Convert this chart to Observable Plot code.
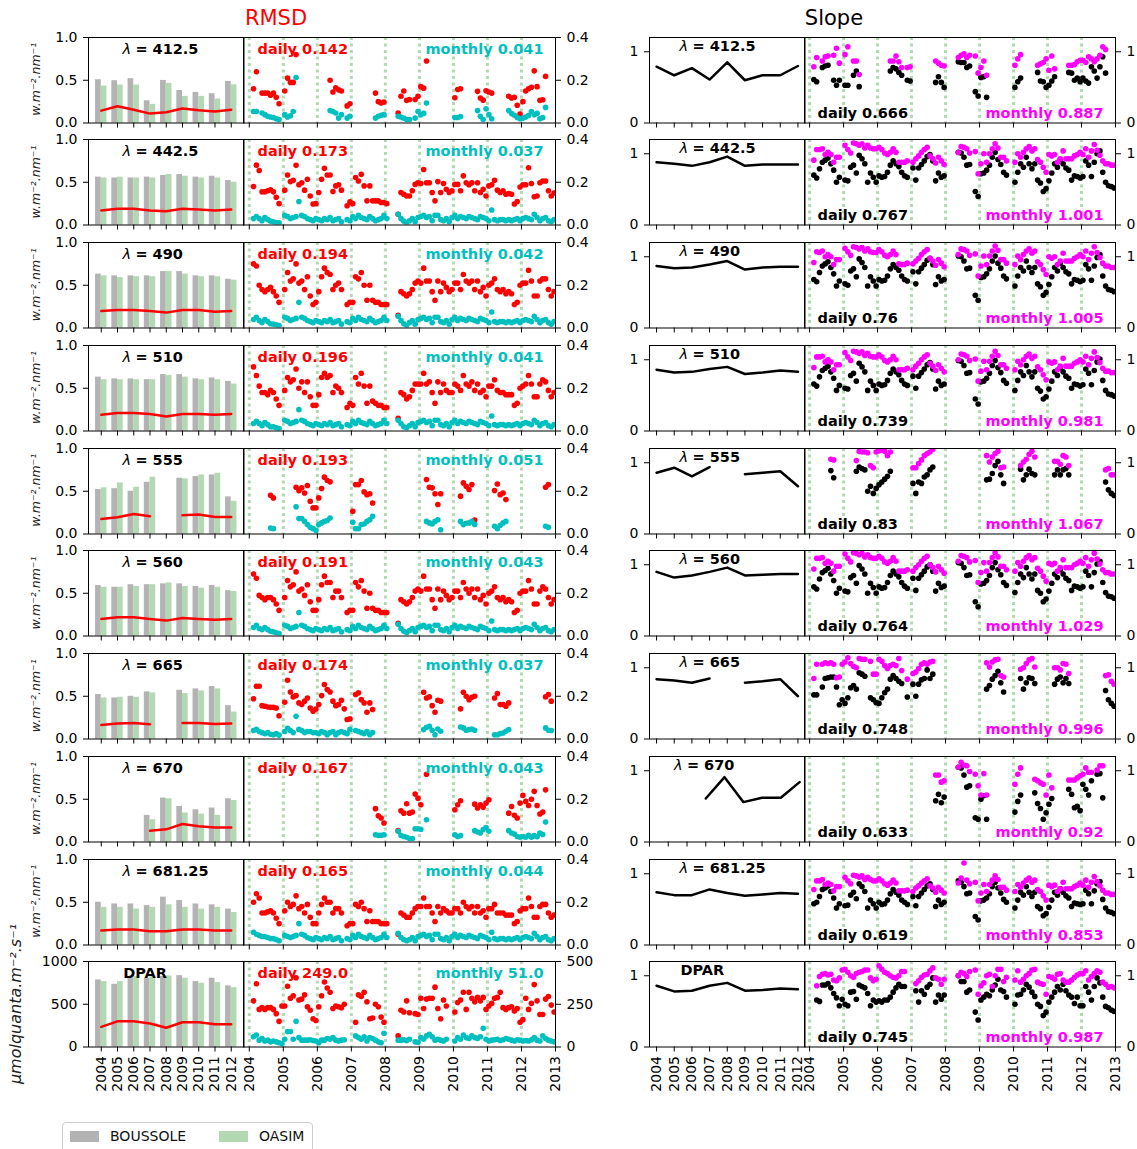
<!DOCTYPE html>
<html><head><meta charset="utf-8">
<script src="https://cdn.jsdelivr.net/npm/d3@7"></script>
<script src="https://cdn.jsdelivr.net/npm/@observablehq/plot@0.6"></script>
<style>
body{margin:0;background:#fff;}
#fig{position:relative;width:1137px;height:1149px;overflow:hidden;font-family:"DejaVu Sans",sans-serif;}
</style></head><body><div id="fig"></div>
<script>
const _ = null;
const years = [2004, 2005, 2006, 2007, 2008, 2009, 2010, 2011, 2012];
const yearsRight = [2004, 2005, 2006, 2007, 2008, 2009, 2010, 2011, 2012, 2013];
const bandNames = ["412.5", "442.5", "490", "510", "555", "560", "665", "670", "681.25", "DPAR"];
const rmsdDailyTxt = ["0.142", "0.173", "0.194", "0.196", "0.193", "0.191", "0.174", "0.167", "0.165", "249.0"];
const rmsdMonthlyTxt = ["0.041", "0.037", "0.042", "0.041", "0.051", "0.043", "0.037", "0.043", "0.044", "51.0"];
const slopeDailyTxt = ["0.666", "0.767", "0.76", "0.739", "0.83", "0.764", "0.748", "0.633", "0.619", "0.745"];
const slopeMonthlyTxt = ["0.887", "1.001", "1.005", "0.981", "1.067", "1.029", "0.996", "0.92", "0.853", "0.987"];
const legendNames = ["BOUSSOLE", "OASIM"];

// ---- annual values (2004..2012) ----
const boussole412 = [0.506, 0.494, 0.518, 0.26, 0.498, 0.38, 0.358, 0.342, 0.486];
const oasim412 = [0.432, 0.444, 0.444, 0.218, 0.463, 0.311, 0.311, 0.28, 0.447];
const rmsdYear412 = [0.145, 0.195, 0.155, 0.11, 0.125, 0.17, 0.15, 0.135, 0.155];
const slopeYear412 = [0.79, 0.67, 0.77, 0.61, 0.85, 0.6, 0.67, 0.67, 0.8];
const boussole442 = [0.56, 0.55, 0.55, 0.56, 0.58, 0.59, 0.56, 0.57, 0.52];
const oasim442 = [0.55, 0.56, 0.55, 0.55, 0.59, 0.57, 0.55, 0.55, 0.5];
const rmsdYear442 = [0.17, 0.19, 0.19, 0.17, 0.16, 0.19, 0.18, 0.17, 0.18];
const slopeYear442 = [0.88, 0.86, 0.83, 0.88, 0.96, 0.83, 0.85, 0.85, 0.85];
const boussole490 = [0.63, 0.61, 0.61, 0.61, 0.66, 0.66, 0.61, 0.61, 0.57];
const oasim490 = [0.61, 0.59, 0.6, 0.6, 0.66, 0.63, 0.6, 0.6, 0.56];
const rmsdYear490 = [0.2, 0.21, 0.21, 0.2, 0.18, 0.21, 0.21, 0.19, 0.2];
const slopeYear490 = [0.87, 0.84, 0.85, 0.89, 0.94, 0.82, 0.85, 0.86, 0.86];
const boussole510 = [0.63, 0.61, 0.61, 0.6, 0.66, 0.66, 0.61, 0.62, 0.58];
const oasim510 = [0.6, 0.6, 0.6, 0.6, 0.65, 0.63, 0.6, 0.6, 0.55];
const rmsdYear510 = [0.19, 0.21, 0.21, 0.2, 0.17, 0.2, 0.2, 0.19, 0.2];
const slopeYear510 = [0.86, 0.82, 0.83, 0.87, 0.9, 0.8, 0.82, 0.85, 0.83];
const boussole555 = [0.52, 0.53, 0.5, 0.605, _, 0.652, 0.672, 0.691, 0.434];
const oasim555 = [0.54, 0.598, 0.547, 0.664, _, 0.645, 0.691, 0.711, 0.383];
const rmsdYear555 = [0.176, 0.195, 0.234, 0.207, _, 0.219, 0.227, 0.2, 0.2];
const slopeYear555 = [0.86, 0.93, 0.81, 0.94, _, 0.84, 0.86, 0.88, 0.67];
const boussole560 = [0.59, 0.57, 0.6, 0.6, 0.61, 0.61, 0.58, 0.59, 0.53];
const oasim560 = [0.57, 0.57, 0.58, 0.6, 0.62, 0.58, 0.56, 0.57, 0.52];
const rmsdYear560 = [0.2, 0.22, 0.22, 0.2, 0.18, 0.21, 0.2, 0.19, 0.2];
const slopeYear560 = [0.9, 0.82, 0.85, 0.9, 0.96, 0.85, 0.86, 0.87, 0.87];
const boussole665 = [0.52, 0.48, 0.5, 0.551, _, 0.57, 0.586, 0.613, 0.39];
const oasim665 = [0.48, 0.488, 0.488, 0.539, _, 0.531, 0.563, 0.586, 0.316];
const rmsdYear665 = [0.164, 0.18, 0.188, 0.172, _, 0.188, 0.188, 0.176, 0.18];
const slopeYear665 = [0.84, 0.82, 0.79, 0.85, _, 0.79, 0.81, 0.84, 0.6];
const boussole670 = [_, _, _, 0.311, 0.514, 0.416, 0.377, 0.397, 0.506];
const oasim670 = [_, _, _, 0.261, 0.506, 0.339, 0.327, 0.311, 0.486];
const rmsdYear670 = [_, _, _, 0.132, 0.148, 0.21, 0.183, 0.171, 0.171];
const slopeYear670 = [_, _, _, 0.61, 0.91, 0.56, 0.62, 0.62, 0.84];
const boussole681 = [0.5, 0.48, 0.48, 0.46, 0.56, 0.52, 0.48, 0.47, 0.42];
const oasim681 = [0.44, 0.44, 0.42, 0.44, 0.47, 0.44, 0.42, 0.44, 0.38];
const rmsdYear681 = [0.17, 0.18, 0.18, 0.16, 0.16, 0.18, 0.18, 0.17, 0.17];
const slopeYear681 = [0.74, 0.7, 0.7, 0.78, 0.73, 0.69, 0.71, 0.73, 0.72];
const boussoleDPAR = [784, 733, 810, 804, 824, 835, 765, 804, 714];
const oasimDPAR = [765, 765, 824, 824, 831, 804, 745, 753, 694];
const rmsdYearDPAR = [235, 300, 300, 275, 225, 290, 290, 265, 265];
const slopeYearDPAR = [0.86, 0.78, 0.79, 0.86, 0.9, 0.79, 0.8, 0.82, 0.81];

// ---- monthly match-ups, Jan 2004 .. Dec 2012 (one line per year) ----
const rmsdDaily412 = [
 _, 0.16, 0.24, _, 0.14, 0.14, 0.14, 0.13, 0.14, 0.12, 0.09, _,
 0.15, 0.21, 0.19, 0.19, 0.32, _, _, _, _, _, _, _,
 _, _, _, _, 0.20, 0.145, 0.165, 0.155, 0.15, _, 0.08, 0.09,
 _, _, _, _, _, _, _, _, 0.14, 0.10, 0.093, 0.098,
 _, _, _, _, 0.047, 0.125, 0.15, 0.106, 0.11, _, 0.11, 0.125,
 0.17, 0.163, 0.29, _, _, _, _, _, _, _, _, _,
 0.118, 0.157, 0.16, _, _, _, _, _, 0.148, 0.117, 0.107, 0.151,
 0.145, 0.14, _, _, _, _, _, 0.125, 0.117, 0.12, 0.083, 0.042,
 0.10, 0.15, 0.16, 0.167, 0.244, 0.17, 0.106, 0.109, 0.218, _, _, _];
const rmsdMonthly412 = [
 _, 0.054, 0.054, _, 0.047, 0.039, 0.031, 0.028, 0.026, 0.02, 0.016, _,
 0.039, 0.028, 0.034, 0.054, 0.213, _, _, _, _, _, _, _,
 _, _, _, _, 0.058, 0.054, 0.047, 0.023, 0.039, _, 0.023, 0.031,
 _, _, _, _, _, _, _, _, 0.023, 0.031, 0.036, 0.039,
 _, _, _, _, 0.031, 0.028, 0.023, 0.016, 0.016, _, 0.023, 0.054,
 0.039, 0.045, 0.093, _, _, _, _, _, _, _, _, _,
 0.026, 0.026, 0.03, _, _, _, _, _, 0.058, 0.031, 0.016, 0.067,
 0.04, 0.02, _, _, _, _, _, 0.058, 0.044, 0.036, 0.026, 0.02,
 0.023, 0.028, 0.035, 0.054, 0.039, 0.045, 0.02, 0.025, 0.073, _, _, _];
const slopeDaily412 = [
 _, 0.61, 0.58, _, 0.78, 0.8, 0.81, _, 0.6, 0.53, 0.6, _,
 0.53, 0.53, _, 0.67, 0.73, 0.51, _, _, _, _, _, _,
 _, _, _, _, 0.73, 0.78, 0.76, 0.71, 0.67, _, 0.6, 0.59,
 _, _, _, _, _, _, _, _, 0.57, 0.65, 0.57, 0.5,
 _, _, _, _, 0.86, 0.85, 0.85, 0.78, 0.8, _, 0.44, 0.38,
 0.64, 0.65, 0.36, _, _, _, _, _, _, _, _, _,
 0.5, 0.58, 0.63, _, _, _, _, _, 0.71, 0.59, 0.58, 0.5,
 0.53, 0.59, 0.65, _, _, _, _, 0.71, 0.7, 0.6, 0.63, 0.58,
 0.63, 0.59, 0.56, 0.79, 0.73, 0.63, 0.79, 0.93, 0.7, _, _, _];
const slopeMonthly412 = [
 _, 0.79, 0.92, _, 0.87, 0.93, 0.94, _, 0.95, 1.05, 0.84, _,
 0.96, 1.07, _, 0.87, 0.87, 0.68, _, _, _, _, _, _,
 _, _, _, _, 0.87, 0.87, 0.94, 0.86, 0.78, _, 0.78, 0.79,
 _, _, _, _, _, _, _, _, 0.87, 0.84, 0.81, 0.8,
 _, _, _, _, 0.92, 0.95, 0.97, 0.92, 0.95, _, 0.94, 0.7,
 0.78, 0.87, 0.67, _, _, _, _, _, _, _, _, _,
 0.81, 0.9, 0.96, _, _, _, _, _, 0.81, 0.83, 0.85, 0.9,
 0.74, 0.94, 0.76, _, _, _, _, 0.81, 0.81, 0.82, 0.86, 0.88,
 0.88, 0.85, 0.93, 0.9, 0.86, 0.9, 0.95, 1.07, 1.03, _, _, _];

const rmsdDaily442 = [
 _, 0.18, 0.28, 0.255, 0.155, 0.155, 0.16, 0.165, 0.155, 0.13, 0.1, _,
 0.163, 0.234, 0.203, 0.209, 0.279, 0.188, 0.198, 0.163, 0.214, 0.136, 0.098, 0.1,
 0.152, 0.214, 0.265, 0.234, 0.234, 0.157, 0.183, 0.188, 0.163, _, 0.09, 0.108,
 0.1, 0.222, 0.206, 0.237, 0.183, 0.113, 0.183, 0.113, 0.113, 0.113, 0.105, 0.105,
 0.1, _, _, _, 0.05, 0.152, 0.144, 0.136, 0.136, 0.16, 0.19, 0.198,
 0.194, 0.26, 0.198, 0.198, 0.152, 0.113, 0.203, 0.152, 0.194, 0.167, 0.152, 0.16,
 0.19, 0.19, 0.16, 0.23, 0.198, 0.188, 0.198, 0.16, 0.198, 0.152, 0.167, 0.136,
 0.183, 0.188, 0.209, 0.163, 0.152, 0.16, 0.144, 0.147, 0.144, 0.098, 0.11, 0.178,
 0.188, 0.188, 0.268, 0.194, 0.132, 0.136, 0.198, 0.206, 0.206, 0.16, 0.136, 0.15];
const rmsdMonthly442 = [
 _, 0.03, 0.04, 0.03, 0.02, 0.035, 0.025, 0.018, 0.015, 0.012, 0.01, _,
 0.045, 0.04, 0.03, 0.035, 0.04, 0.11, 0.045, 0.04, 0.03, 0.025, 0.02, 0.03,
 0.025, 0.02, 0.03, 0.025, 0.035, 0.02, 0.025, 0.03, 0.015, _, 0.025, 0.02,
 0.04, 0.03, 0.045, 0.035, 0.03, 0.025, 0.04, 0.03, 0.02, 0.025, 0.03, 0.045,
 0.03, _, _, _, 0.05, 0.03, 0.018, 0.01, 0.02, 0.03, 0.015, 0.035,
 0.04, 0.045, 0.035, 0.04, 0.02, 0.045, 0.045, 0.025, 0.02, 0.03, 0.015, 0.035,
 0.045, 0.03, 0.04, 0.035, 0.03, 0.04, 0.035, 0.03, 0.025, 0.04, 0.035, 0.03,
 0.02, 0.07, 0.025, 0.02, 0.025, 0.025, 0.02, 0.025, 0.02, 0.025, 0.03, 0.02,
 0.03, 0.035, 0.03, 0.025, 0.05, 0.035, 0.02, 0.03, 0.035, 0.02, 0.015, 0.025];
const slopeDaily442 = [
 _, 0.7, 0.66, 0.79, 0.88, 0.91, 0.94, 0.86, 0.77, 0.6, 0.67, _,
 0.63, 0.62, 0.81, 0.84, 0.73, 0.98, 0.93, 0.86, 0.6, 0.73, 0.67, 0.6,
 0.69, 0.67, 0.68, 0.74, 0.84, 0.9, 0.86, 0.82, 0.74, 0.69, 0.67, _,
 0.8, 0.63, 0.8, 0.85, 0.9, 0.96, 0.99, 0.9, 0.62, 0.73, 0.67, 0.69,
 _, _, _, _, 1.02, 1.01, 0.95, 0.84, 0.85, _, 0.47, 0.4,
 0.72, 0.73, 0.77, 0.84, 0.95, 1.02, 0.92, 0.85, 0.74, 0.7, _, _,
 0.6, 0.74, 0.86, 0.81, 0.95, 0.86, 0.79, 0.86, 0.63, 0.59, 0.47, 0.51,
 0.62, 0.73, 0.86, 0.81, 0.92, 0.86, 0.8, 0.77, 0.63, 0.69, 0.68, 0.66,
 0.68, 0.9, 0.84, 0.68, 0.88, 1.0, 1.04, 0.74, 0.6, 0.55, 0.54, 0.52];
const slopeMonthly442 = [
 _, 0.91, 1.06, 1.06, 1.07, 0.99, 1.02, 0.99, 0.88, 0.95, 0.95, _,
 1.12, 1.06, 1.01, 1.15, 1.14, 1.12, 1.14, 1.08, 1.12, 1.08, 1.07, 1.07,
 1.09, 1.06, 1.01, 0.99, 1.02, 1.07, 1.02, 0.88, 0.88, 0.88, 0.9, _,
 0.88, 0.93, 0.97, 1.02, 1.06, 1.09, 0.97, 0.93, 0.87, 0.95, 0.9, 0.85,
 _, _, _, _, 1.02, 1.1, 1.09, 1.07, 1.01, _, 1.03, 0.72,
 0.86, 1.0, 0.88, 1.0, 1.07, 1.14, 1.08, 0.95, 0.95, 0.9, _, _,
 0.88, 1.0, 0.95, 1.02, 1.07, 1.1, 1.04, 1.07, 0.92, 0.88, 0.81, 0.74,
 0.99, 0.97, 0.99, 0.88, 0.93, 1.04, 0.93, 0.93, 0.93, 0.97, 0.99, 1.02,
 0.99, 1.07, 0.95, 1.04, 1.13, 1.05, 0.98, 0.9, 0.86, 0.86, 0.84, 0.84];

const rmsdDaily490 = [
 _, 0.3, 0.29, 0.2, 0.18, 0.17, 0.18, 0.19, 0.17, 0.15, 0.12, _,
 0.18, 0.26, 0.22, 0.23, 0.3, 0.21, 0.22, 0.18, 0.24, 0.15, 0.11, 0.12,
 0.17, 0.24, 0.28, 0.26, 0.25, 0.18, 0.2, 0.21, 0.18, _, 0.11, 0.12,
 0.12, 0.24, 0.23, 0.26, 0.2, 0.13, 0.2, 0.13, 0.12, 0.12, 0.11, 0.11,
 0.11, _, _, _, 0.06, 0.17, 0.16, 0.15, 0.16, 0.18, 0.21, 0.22,
 0.21, 0.28, 0.22, 0.22, 0.17, 0.13, 0.22, 0.17, 0.21, 0.19, 0.17, 0.18,
 0.21, 0.21, 0.18, 0.25, 0.22, 0.21, 0.22, 0.18, 0.22, 0.17, 0.19, 0.15,
 0.2, 0.21, 0.23, 0.18, 0.17, 0.18, 0.16, 0.17, 0.16, 0.11, 0.12, 0.2,
 0.21, 0.21, 0.27, 0.22, 0.15, 0.15, 0.22, 0.23, 0.23, 0.18, 0.15, 0.17];
const rmsdMonthly490 = [
 _, 0.04, 0.05, 0.035, 0.025, 0.04, 0.03, 0.02, 0.018, 0.015, 0.012, _,
 0.05, 0.045, 0.035, 0.04, 0.045, 0.12, 0.05, 0.045, 0.035, 0.03, 0.025, 0.035,
 0.03, 0.025, 0.035, 0.03, 0.04, 0.025, 0.03, 0.035, 0.018, _, 0.03, 0.025,
 0.045, 0.035, 0.05, 0.04, 0.035, 0.03, 0.045, 0.035, 0.025, 0.03, 0.035, 0.05,
 0.035, _, _, _, 0.055, 0.035, 0.02, 0.012, 0.025, 0.035, 0.018, 0.04,
 0.045, 0.05, 0.04, 0.045, 0.025, 0.05, 0.05, 0.03, 0.025, 0.035, 0.018, 0.04,
 0.05, 0.035, 0.045, 0.04, 0.035, 0.045, 0.04, 0.035, 0.03, 0.045, 0.04, 0.035,
 0.025, 0.075, 0.03, 0.025, 0.03, 0.03, 0.025, 0.03, 0.025, 0.03, 0.035, 0.025,
 0.035, 0.04, 0.035, 0.03, 0.055, 0.04, 0.025, 0.035, 0.04, 0.025, 0.018, 0.03];
const slopeDaily490 = [
 _, 0.68, 0.65, 0.78, 0.87, 0.9, 0.93, 0.85, 0.76, 0.59, 0.66, _,
 0.62, 0.6, 0.8, 0.83, 0.72, 0.97, 0.92, 0.85, 0.59, 0.72, 0.66, 0.59,
 0.68, 0.66, 0.67, 0.73, 0.83, 0.89, 0.85, 0.81, 0.73, 0.68, 0.66, _,
 0.79, 0.62, 0.79, 0.84, 0.89, 0.95, 0.98, 0.89, 0.61, 0.72, 0.66, 0.68,
 _, _, _, _, 1.01, 1.0, 0.94, 0.83, 0.84, _, 0.46, 0.39,
 0.71, 0.72, 0.76, 0.83, 0.94, 1.01, 0.91, 0.84, 0.73, 0.69, _, _,
 0.59, 0.73, 0.85, 0.8, 0.94, 0.85, 0.78, 0.85, 0.62, 0.58, 0.46, 0.5,
 0.61, 0.72, 0.85, 0.8, 0.91, 0.85, 0.79, 0.76, 0.62, 0.68, 0.67, 0.65,
 0.67, 0.89, 0.83, 0.67, 0.87, 0.99, 1.03, 0.73, 0.59, 0.54, 0.53, 0.51];
const slopeMonthly490 = [
 _, 0.92, 1.07, 1.06, 1.08, 1.0, 1.03, 1.0, 0.89, 0.96, 0.96, _,
 1.12, 1.07, 1.02, 1.14, 1.13, 1.11, 1.13, 1.08, 1.11, 1.07, 1.06, 1.06,
 1.1, 1.07, 1.02, 1.0, 1.03, 1.08, 1.03, 0.9, 0.89, 0.89, 0.91, _,
 0.9, 0.94, 0.98, 1.03, 1.07, 1.1, 0.98, 0.94, 0.88, 0.96, 0.91, 0.86,
 _, _, _, _, 1.03, 1.11, 1.1, 1.08, 1.02, _, 1.04, 0.73,
 0.87, 1.01, 0.89, 1.01, 1.08, 1.15, 1.09, 0.96, 0.96, 0.91, _, _,
 0.89, 1.01, 0.96, 1.03, 1.08, 1.11, 1.05, 1.08, 0.93, 0.89, 0.82, 0.75,
 1.0, 0.98, 1.0, 0.89, 0.94, 1.05, 0.94, 0.94, 0.94, 0.98, 1.0, 1.03,
 1.0, 1.08, 0.96, 1.05, 1.14, 1.06, 0.99, 0.91, 0.87, 0.87, 0.85, 0.85];

const rmsdDaily510 = [
 _, 0.3, 0.26, 0.21, 0.18, 0.18, 0.17, 0.19, 0.18, 0.15, 0.12, _,
 0.19, 0.25, 0.23, 0.24, 0.29, 0.2, 0.23, 0.18, 0.23, 0.16, 0.12, 0.12,
 0.17, 0.25, 0.27, 0.25, 0.26, 0.18, 0.21, 0.2, 0.18, _, 0.11, 0.13,
 0.12, 0.25, 0.22, 0.27, 0.21, 0.13, 0.21, 0.14, 0.13, 0.12, 0.12, 0.11,
 0.11, _, _, _, 0.06, 0.18, 0.17, 0.15, 0.16, 0.19, 0.22, 0.22,
 0.22, 0.27, 0.22, 0.23, 0.18, 0.13, 0.23, 0.18, 0.22, 0.19, 0.18, 0.18,
 0.22, 0.21, 0.19, 0.26, 0.22, 0.21, 0.23, 0.19, 0.22, 0.18, 0.19, 0.16,
 0.21, 0.21, 0.24, 0.19, 0.18, 0.18, 0.17, 0.17, 0.17, 0.12, 0.13, 0.2,
 0.21, 0.22, 0.26, 0.22, 0.16, 0.16, 0.22, 0.24, 0.23, 0.19, 0.16, 0.18];
const rmsdMonthly510 = [
 _, 0.035, 0.045, 0.035, 0.025, 0.04, 0.03, 0.02, 0.02, 0.015, 0.012, _,
 0.05, 0.045, 0.035, 0.04, 0.045, 0.1, 0.05, 0.045, 0.035, 0.03, 0.025, 0.035,
 0.03, 0.025, 0.035, 0.03, 0.04, 0.025, 0.03, 0.035, 0.02, _, 0.03, 0.025,
 0.045, 0.035, 0.05, 0.04, 0.035, 0.03, 0.045, 0.035, 0.025, 0.03, 0.035, 0.05,
 0.035, _, _, _, 0.05, 0.035, 0.02, 0.015, 0.025, 0.035, 0.02, 0.04,
 0.045, 0.05, 0.04, 0.045, 0.025, 0.05, 0.05, 0.03, 0.025, 0.035, 0.02, 0.04,
 0.05, 0.035, 0.045, 0.04, 0.035, 0.045, 0.04, 0.035, 0.03, 0.045, 0.04, 0.035,
 0.025, 0.07, 0.03, 0.025, 0.03, 0.03, 0.025, 0.03, 0.025, 0.03, 0.035, 0.025,
 0.035, 0.04, 0.035, 0.03, 0.05, 0.04, 0.025, 0.035, 0.04, 0.025, 0.02, 0.03];
const slopeDaily510 = [
 _, 0.66, 0.63, 0.76, 0.85, 0.88, 0.91, 0.83, 0.74, 0.57, 0.64, _,
 0.6, 0.59, 0.78, 0.81, 0.7, 0.95, 0.9, 0.83, 0.57, 0.7, 0.64, 0.57,
 0.66, 0.64, 0.65, 0.71, 0.81, 0.87, 0.83, 0.79, 0.71, 0.66, 0.64, _,
 0.77, 0.6, 0.77, 0.82, 0.87, 0.93, 0.96, 0.87, 0.59, 0.7, 0.64, 0.66,
 _, _, _, _, 0.99, 0.98, 0.92, 0.81, 0.82, _, 0.45, 0.38,
 0.69, 0.7, 0.74, 0.81, 0.92, 0.99, 0.89, 0.82, 0.71, 0.67, _, _,
 0.57, 0.71, 0.83, 0.78, 0.92, 0.83, 0.76, 0.83, 0.6, 0.56, 0.45, 0.48,
 0.59, 0.7, 0.83, 0.78, 0.89, 0.83, 0.77, 0.74, 0.6, 0.66, 0.65, 0.63,
 0.65, 0.87, 0.81, 0.65, 0.85, 0.97, 1.01, 0.71, 0.57, 0.52, 0.51, 0.49];
const slopeMonthly510 = [
 _, 0.89, 1.04, 1.04, 1.05, 0.97, 1.0, 0.97, 0.86, 0.93, 0.93, _,
 1.1, 1.04, 0.99, 1.12, 1.11, 1.09, 1.11, 1.06, 1.09, 1.05, 1.04, 1.04,
 1.07, 1.04, 0.99, 0.97, 1.0, 1.05, 1.0, 0.86, 0.86, 0.86, 0.88, _,
 0.86, 0.91, 0.95, 1.0, 1.04, 1.07, 0.95, 0.91, 0.85, 0.93, 0.88, 0.83,
 _, _, _, _, 1.0, 1.08, 1.07, 1.05, 0.99, _, 1.01, 0.7,
 0.84, 0.98, 0.86, 0.98, 1.05, 1.12, 1.06, 0.93, 0.93, 0.88, _, _,
 0.86, 0.98, 0.93, 1.0, 1.05, 1.08, 1.02, 1.05, 0.9, 0.86, 0.79, 0.72,
 0.97, 0.95, 0.97, 0.86, 0.91, 1.02, 0.91, 0.91, 0.91, 0.95, 0.97, 1.0,
 0.97, 1.05, 0.93, 1.02, 1.11, 1.03, 0.96, 0.88, 0.84, 0.84, 0.82, 0.82];

const rmsdDaily555 = [
 _, _, _, _, _, _, _, 0.181, 0.169, _, _, _,
 _, _, _, _, 0.219, 0.203, 0.216, 0.192, 0.227, 0.153, 0.122, 0.122,
 0.169, 0.213, 0.266, 0.25, 0.244, _, _, _, _, _, _, _,
 0.106, 0.231, 0.231, 0.25, 0.197, 0.184, 0.188, 0.145, _, _, _, _,
 _, _, _, _, _, _, _, _, _, _, _, _,
 _, _, 0.255, 0.219, 0.216, 0.188, 0.138, 0.188, _, _, _, _,
 _, _, 0.177, 0.239, 0.223, 0.208, 0.231, 0.065, _, _, _, _,
 _, _, 0.203, 0.234, 0.184, 0.192, 0.161, _, _, _, _, _,
 _, _, _, _, _, _, _, _, 0.219, 0.231, _, _];
const rmsdMonthly555 = [
 _, _, _, _, _, _, _, 0.028, 0.025, _, _, _,
 _, _, _, _, 0.127, 0.072, 0.072, 0.059, 0.044, 0.031, 0.025, 0.016,
 0.044, 0.052, 0.059, 0.063, 0.075, _, _, _, _, _, _, _,
 0.055, 0.025, 0.025, 0.044, 0.047, 0.059, 0.067, 0.083, _, _, _, _,
 _, _, _, _, _, _, _, _, _, _, _, _,
 _, _, 0.059, 0.052, 0.047, 0.059, 0.067, 0.02, _, _, _, _,
 _, _, 0.059, 0.044, 0.05, 0.052, 0.059, 0.045, _, _, _, _,
 _, _, 0.036, 0.025, 0.041, 0.052, 0.059, _, _, _, _, _,
 _, _, _, _, _, _, _, _, 0.036, 0.031, _, _];
const slopeDaily555 = [
 _, _, _, _, _, _, _, 0.89, 0.79, _, _, _,
 _, _, _, _, 0.88, 0.94, 0.92, 0.9, 0.6, 0.67, 0.57, 0.64,
 0.69, 0.73, 0.77, 0.81, 0.88, _, _, _, _, _, _, _,
 0.71, 0.57, 0.73, 0.71, 0.8, 0.83, 0.9, 0.94, _, _, _, _,
 _, _, _, _, _, _, _, _, _, _, _, _,
 _, _, 0.76, 0.77, 0.85, 0.96, 1.02, 0.83, 0.71, _, _, _,
 _, _, 0.91, 0.76, 0.83, 0.91, 0.85, 0.83, _, _, _, _,
 _, _, 0.83, 0.9, 0.83, 0.9, 0.92, 0.83, _, _, _, _,
 _, _, _, _, _, _, _, _, 0.73, 0.62, 0.57, 0.54];
const slopeMonthly555 = [
 _, _, _, _, _, _, _, 1.05, 1.04, _, _, _,
 _, _, _, _, 1.03, 1.16, 1.15, 1.15, 1.14, 0.96, 0.93, 1.15,
 1.17, 1.18, 1.16, 1.1, 1.15, _, _, _, _, _, _, _,
 0.93, 0.93, 0.99, 1.04, 1.1, 1.13, 1.15, 1.19, _, _, _, _,
 _, _, _, _, _, _, _, _, _, _, _, _,
 _, _, 1.1, 1.01, 1.08, 1.13, 1.16, 0.93, 0.94, _, _, _,
 _, _, 0.96, 1.01, 1.05, 1.12, 1.16, 1.08, _, _, _, _,
 _, _, 1.02, 1.02, 0.98, 1.1, 1.08, 0.96, _, _, _, _,
 _, _, _, _, _, _, _, _, 0.9, 0.92, 0.83, 0.83];

const rmsdDaily560 = [
 _, 0.29, 0.27, 0.19, 0.18, 0.17, 0.18, 0.18, 0.17, 0.15, 0.12, _,
 0.18, 0.26, 0.23, 0.24, 0.3, 0.21, 0.22, 0.19, 0.24, 0.16, 0.12, 0.12,
 0.17, 0.24, 0.28, 0.25, 0.25, 0.18, 0.21, 0.21, 0.18, _, 0.11, 0.12,
 0.12, 0.25, 0.23, 0.26, 0.21, 0.13, 0.2, 0.13, 0.12, 0.12, 0.11, 0.11,
 0.11, _, _, _, 0.06, 0.17, 0.16, 0.15, 0.16, 0.18, 0.21, 0.22,
 0.21, 0.28, 0.22, 0.22, 0.17, 0.13, 0.22, 0.17, 0.21, 0.19, 0.17, 0.18,
 0.21, 0.21, 0.18, 0.25, 0.22, 0.2, 0.22, 0.18, 0.22, 0.17, 0.19, 0.15,
 0.2, 0.21, 0.23, 0.18, 0.17, 0.18, 0.16, 0.17, 0.16, 0.11, 0.12, 0.2,
 0.21, 0.21, 0.26, 0.22, 0.15, 0.15, 0.21, 0.23, 0.22, 0.18, 0.15, 0.17];
const rmsdMonthly560 = [
 _, 0.04, 0.05, 0.035, 0.03, 0.04, 0.03, 0.022, 0.02, 0.015, 0.012, _,
 0.05, 0.045, 0.035, 0.04, 0.045, 0.11, 0.05, 0.045, 0.035, 0.03, 0.025, 0.035,
 0.03, 0.025, 0.035, 0.03, 0.04, 0.025, 0.03, 0.035, 0.02, _, 0.03, 0.025,
 0.045, 0.035, 0.05, 0.04, 0.035, 0.03, 0.045, 0.035, 0.025, 0.03, 0.035, 0.05,
 0.035, _, _, _, 0.055, 0.035, 0.022, 0.015, 0.025, 0.035, 0.02, 0.04,
 0.045, 0.05, 0.04, 0.045, 0.025, 0.05, 0.05, 0.03, 0.025, 0.035, 0.02, 0.04,
 0.05, 0.035, 0.045, 0.04, 0.035, 0.045, 0.04, 0.035, 0.03, 0.045, 0.04, 0.035,
 0.025, 0.07, 0.03, 0.025, 0.03, 0.03, 0.025, 0.03, 0.025, 0.03, 0.035, 0.025,
 0.035, 0.04, 0.035, 0.03, 0.055, 0.04, 0.025, 0.035, 0.04, 0.025, 0.02, 0.03];
const slopeDaily560 = [
 _, 0.69, 0.66, 0.8, 0.89, 0.92, 0.95, 0.87, 0.78, 0.6, 0.67, _,
 0.63, 0.62, 0.82, 0.85, 0.74, 0.99, 0.94, 0.87, 0.6, 0.74, 0.68, 0.6,
 0.69, 0.67, 0.68, 0.75, 0.85, 0.91, 0.87, 0.83, 0.75, 0.7, 0.67, _,
 0.81, 0.64, 0.81, 0.86, 0.91, 0.97, 1.0, 0.91, 0.63, 0.74, 0.68, 0.7,
 _, _, _, _, 1.03, 1.02, 0.96, 0.85, 0.86, _, 0.48, 0.41,
 0.73, 0.74, 0.78, 0.85, 0.96, 1.03, 0.93, 0.86, 0.75, 0.71, _, _,
 0.61, 0.75, 0.87, 0.82, 0.96, 0.87, 0.8, 0.87, 0.64, 0.6, 0.48, 0.52,
 0.63, 0.74, 0.87, 0.82, 0.93, 0.87, 0.81, 0.78, 0.64, 0.7, 0.69, 0.67,
 0.69, 0.91, 0.85, 0.69, 0.89, 1.01, 1.05, 0.75, 0.61, 0.56, 0.55, 0.53];
const slopeMonthly560 = [
 _, 0.94, 1.09, 1.09, 1.1, 1.02, 1.05, 1.02, 0.91, 0.98, 0.98, _,
 1.15, 1.09, 1.04, 1.17, 1.16, 1.14, 1.16, 1.11, 1.14, 1.1, 1.09, 1.09,
 1.12, 1.09, 1.04, 1.02, 1.05, 1.1, 1.05, 0.91, 0.91, 0.91, 0.93, _,
 0.91, 0.96, 1.0, 1.05, 1.09, 1.12, 1.0, 0.96, 0.9, 0.98, 0.93, 0.88,
 _, _, _, _, 1.05, 1.13, 1.12, 1.1, 1.04, _, 1.06, 0.75,
 0.89, 1.03, 0.91, 1.03, 1.1, 1.17, 1.11, 0.98, 0.98, 0.93, _, _,
 0.91, 1.03, 0.98, 1.05, 1.1, 1.13, 1.07, 1.1, 0.95, 0.91, 0.84, 0.77,
 1.02, 1.0, 1.02, 0.91, 0.96, 1.07, 0.96, 0.96, 0.96, 1.0, 1.02, 1.05,
 1.02, 1.1, 0.98, 1.07, 1.16, 1.08, 1.01, 0.93, 0.89, 0.89, 0.87, 0.87];

const rmsdDaily665 = [
 _, 0.188, 0.247, 0.247, 0.156, 0.153, 0.15, 0.148, 0.148, 0.145, 0.109, _,
 0.172, 0.275, 0.22, 0.197, 0.203, 0.169, 0.161, 0.177, 0.192, 0.145, 0.13, 0.14,
 0.161, 0.203, 0.255, 0.231, 0.22, 0.177, 0.156, 0.161, 0.181, 0.141, 0.091, 0.094,
 _, 0.208, 0.216, 0.184, 0.169, 0.125, 0.169, 0.138, _, _, _, _,
 _, _, _, _, _, _, _, _, _, _, _, _,
 _, 0.219, 0.192, 0.197, 0.156, 0.125, 0.181, 0.177, _, _, _, _,
 _, _, 0.141, 0.219, 0.2, 0.184, 0.195, 0.2, _, _, _, _,
 _, _, 0.192, 0.213, 0.161, 0.161, 0.153, 0.169, _, _, _, _,
 _, _, _, _, _, _, _, _, 0.197, 0.208, 0.177, _];
const rmsdMonthly665 = [
 _, 0.04, 0.045, 0.035, 0.03, 0.025, 0.03, 0.022, 0.02, 0.025, 0.018, _,
 0.035, 0.05, 0.04, 0.03, 0.106, 0.045, 0.04, 0.03, 0.035, 0.035, 0.03, 0.03,
 0.025, 0.035, 0.03, 0.02, 0.03, 0.035, 0.02, 0.03, 0.035, 0.03, 0.025, 0.045,
 _, 0.04, 0.035, 0.03, 0.025, 0.035, 0.02, 0.03, _, _, _, _,
 _, _, _, _, _, _, _, _, _, _, _, _,
 _, 0.044, 0.055, 0.059, 0.041, 0.02, 0.047, 0.036, _, _, _, _,
 _, _, 0.056, 0.052, 0.041, 0.044, 0.047, 0.041, _, _, _, _,
 _, _, 0.02, 0.02, 0.025, 0.028, 0.036, 0.044, _, _, _, _,
 _, _, _, _, _, _, _, _, 0.052, 0.041, 0.04, _];
const slopeDaily665 = [
 _, 0.62, 0.62, _, 0.73, 0.85, 0.86, 0.87, 0.87, 0.73, 0.48, 0.55,
 0.5, 0.58, 0.72, 0.75, 0.7, 0.93, 0.91, 0.88, _, 0.58, 0.55, 0.51,
 0.5, 0.58, 0.65, 0.7, 0.84, 0.89, 0.85, 0.81, 0.78, _, 0.59, _,
 0.77, 0.6, 0.77, 0.83, 0.85, 0.97, 0.85, 0.91, _, _, _, _,
 _, _, _, _, _, _, _, _, _, _, _, _,
 _, _, 0.7, 0.75, 0.84, 0.89, 0.95, 0.79, 0.66, _, _, _,
 _, _, 0.85, 0.7, 0.79, 0.86, 0.85, 0.78, _, _, _, _,
 _, _, 0.77, 0.84, 0.87, 0.79, 0.85, 0.78, _, _, _, _,
 _, _, _, _, _, _, _, _, 0.68, 0.55, 0.5, 0.46];
const slopeMonthly665 = [
 _, 0.85, 1.05, _, 1.05, 1.07, 1.06, 1.07, 1.05, 0.86, 0.87, 1.05,
 1.08, 1.14, 1.06, 1.02, 1.0, 1.13, 1.12, 1.12, _, 1.09, 0.91, 0.91,
 1.12, 1.09, 1.03, 0.99, 1.03, 1.05, 1.03, 1.13, 0.96, _, 0.84, _,
 0.92, 0.94, 0.99, 1.05, 1.07, 1.05, 1.08, 1.09, _, _, _, _,
 _, _, _, _, _, _, _, _, _, _, _, _,
 _, _, 1.07, 1.01, 1.08, 1.11, 1.12, 0.89, 0.87, _, _, _,
 _, _, 0.98, 1.0, 1.06, 1.11, 1.13, 1.01, _, _, _, _,
 _, _, 1.0, 1.0, 0.97, 1.06, 1.05, 0.92, _, _, _, _,
 _, _, _, _, _, _, _, _, 0.89, 0.9, 0.81, 0.77];

const rmsdDaily670 = [
 _, _, _, _, _, _, _, _, _, _, _, _,
 _, _, _, _, _, _, _, _, _, _, _, _,
 _, _, _, _, _, _, _, _, _, _, _, _,
 _, _, _, _, _, _, _, _, 0.156, 0.123, 0.112, 0.089,
 _, _, _, _, 0.053, 0.146, 0.135, 0.179, 0.135, 0.14, 0.224, 0.205,
 0.174, _, 0.317, _, _, _, _, _, _, _, _, _,
 0.151, 0.174, 0.193, _, _, _, _, 0.177, 0.159, 0.174, 0.162, 0.182,
 0.198, _, _, _, _, _, _, 0.135, 0.166, 0.125, 0.112, 0.182,
 0.218, 0.19, 0.171, 0.2, 0.237, 0.171, 0.131, 0.14, 0.244, _, _, _];
const rmsdMonthly670 = [
 _, _, _, _, _, _, _, _, _, _, _, _,
 _, _, _, _, _, _, _, _, _, _, _, _,
 _, _, _, _, _, _, _, _, _, _, _, _,
 _, _, _, _, _, _, _, _, 0.034, 0.031, 0.031, 0.034,
 _, _, _, _, 0.05, 0.031, 0.026, 0.022, 0.016, 0.016, 0.062, 0.062,
 0.06, _, 0.104, _, _, _, _, _, _, _, _, _,
 0.034, 0.026, 0.03, _, _, _, _, 0.053, 0.047, 0.042, 0.058, 0.068,
 0.05, _, _, _, _, _, _, 0.053, 0.042, 0.037, 0.026, 0.022,
 0.026, 0.022, 0.031, 0.022, 0.03, 0.025, 0.042, 0.035, 0.093, _, _, _];
const slopeDaily670 = [
 _, _, _, _, _, _, _, _, _, _, _, _,
 _, _, _, _, _, _, _, _, _, _, _, _,
 _, _, _, _, _, _, _, _, _, _, _, _,
 _, _, _, _, _, _, _, _, 0.58, 0.67, 0.55, 0.63,
 _, _, _, _, 1.05, 1.04, 0.94, 0.77, 0.79, _, 0.34, 0.32,
 0.6, 0.65, 0.32, _, _, _, _, _, _, _, _, _,
 0.42, 0.57, 0.66, _, _, _, _, 0.69, 0.54, 0.47, 0.32, 0.41,
 0.53, 0.61, _, _, _, _, _, 0.74, 0.67, 0.48, 0.5, 0.44,
 0.81, 0.74, 0.66, 0.86, _, 0.95, 0.96, 0.62, _, _, _, _];
const slopeMonthly670 = [
 _, _, _, _, _, _, _, _, _, _, _, _,
 _, _, _, _, _, _, _, _, _, _, _, _,
 _, _, _, _, _, _, _, _, _, _, _, _,
 _, _, _, _, _, _, _, _, 0.94, 0.94, 0.84, 0.86,
 _, _, _, _, 1.05, 1.12, 1.08, 1.07, 0.99, _, 0.95, 0.79,
 0.66, 0.96, 0.66, _, _, _, _, _, _, _, _, _,
 0.81, 0.95, 1.04, _, _, _, _, 0.88, 0.86, 0.83, 0.81, 0.66,
 0.94, 0.76, _, _, _, _, _, 0.87, 0.87, 0.87, 0.9, 0.93,
 0.95, 1.04, 0.98, 0.98, _, 1.01, 1.07, 1.07, _, _, _, _];

const rmsdDaily681 = [
 _, 0.2, 0.24, 0.22, 0.15, 0.15, 0.155, 0.16, 0.15, 0.125, 0.1, _,
 0.16, 0.2, 0.18, 0.19, 0.23, 0.17, 0.18, 0.15, 0.19, 0.13, 0.1, 0.1,
 0.15, 0.19, 0.22, 0.2, 0.2, 0.15, 0.17, 0.17, 0.15, _, 0.09, 0.1,
 0.1, 0.19, 0.18, 0.2, 0.17, 0.11, 0.16, 0.11, 0.11, 0.11, 0.1, 0.1,
 0.1, _, _, _, 0.05, 0.15, 0.14, 0.13, 0.13, 0.15, 0.17, 0.18,
 0.18, 0.22, 0.18, 0.18, 0.15, 0.11, 0.18, 0.15, 0.17, 0.16, 0.15, 0.15,
 0.17, 0.17, 0.15, 0.2, 0.18, 0.17, 0.18, 0.15, 0.18, 0.15, 0.16, 0.13,
 0.17, 0.17, 0.19, 0.15, 0.15, 0.15, 0.14, 0.14, 0.14, 0.1, 0.11, 0.16,
 0.17, 0.17, 0.22, 0.18, 0.13, 0.13, 0.18, 0.19, 0.19, 0.15, 0.13, 0.14];
const rmsdMonthly681 = [
 _, 0.06, 0.05, 0.045, 0.04, 0.04, 0.035, 0.03, 0.03, 0.025, 0.02, _,
 0.045, 0.04, 0.035, 0.04, 0.045, 0.1, 0.05, 0.045, 0.035, 0.03, 0.025, 0.035,
 0.03, 0.025, 0.035, 0.03, 0.04, 0.025, 0.03, 0.035, 0.02, _, 0.03, 0.025,
 0.045, 0.035, 0.05, 0.04, 0.035, 0.03, 0.045, 0.035, 0.025, 0.03, 0.035, 0.05,
 0.035, _, _, _, 0.055, 0.035, 0.025, 0.02, 0.025, 0.035, 0.02, 0.04,
 0.045, 0.05, 0.04, 0.045, 0.025, 0.05, 0.05, 0.03, 0.025, 0.035, 0.02, 0.04,
 0.05, 0.035, 0.045, 0.04, 0.035, 0.045, 0.04, 0.035, 0.03, 0.045, 0.04, 0.035,
 0.025, 0.06, 0.03, 0.025, 0.03, 0.03, 0.025, 0.03, 0.025, 0.03, 0.035, 0.025,
 0.035, 0.04, 0.035, 0.03, 0.055, 0.04, 0.025, 0.035, 0.04, 0.025, 0.02, 0.03];
const slopeDaily681 = [
 _, 0.58, 0.6, 0.68, 0.78, 0.8, 0.83, 0.75, 0.66, 0.52, 0.58, _,
 0.55, 0.56, 0.7, 0.74, 0.65, 0.86, 0.82, 0.75, 0.52, 0.63, 0.58, 0.52,
 0.6, 0.57, 0.58, 0.63, 0.72, 0.78, 0.74, 0.7, 0.63, 0.6, 0.57, _,
 0.68, 0.55, 0.68, 0.73, 0.78, 0.83, 0.86, 0.78, 0.54, 0.63, 0.57, 0.6,
 _, _, _, _, 0.9, 0.88, 0.82, 0.72, 0.73, _, 0.4, 0.35,
 0.62, 0.63, 0.66, 0.72, 0.82, 0.88, 0.8, 0.73, 0.64, 0.6, _, _,
 0.52, 0.63, 0.74, 0.7, 0.82, 0.74, 0.68, 0.74, 0.54, 0.51, 0.41, 0.44,
 0.53, 0.63, 0.74, 0.7, 0.79, 0.74, 0.69, 0.66, 0.54, 0.59, 0.58, 0.57,
 0.58, 0.77, 0.72, 0.58, 0.76, 0.86, 0.89, 0.64, 0.52, 0.47, 0.46, 0.44];
const slopeMonthly681 = [
 _, 0.78, 0.9, 0.9, 0.92, 0.85, 0.87, 0.85, 0.76, 0.82, 0.82, _,
 0.95, 0.9, 0.86, 0.98, 0.97, 0.95, 0.97, 0.92, 0.95, 0.92, 0.9, 0.9,
 0.93, 0.9, 0.86, 0.84, 0.87, 0.91, 0.87, 0.76, 0.76, 0.76, 0.77, _,
 0.75, 0.8, 0.83, 0.87, 0.9, 0.93, 0.83, 0.8, 0.74, 0.81, 0.77, 0.73,
 _, _, _, _, 0.87, 0.94, 1.15, 0.91, 0.86, _, 0.88, 0.62,
 0.73, 0.85, 0.75, 0.85, 0.91, 0.97, 0.92, 0.81, 0.81, 0.77, _, _,
 0.75, 0.85, 0.81, 0.87, 0.91, 0.94, 0.88, 0.91, 0.78, 0.75, 0.69, 0.63,
 0.84, 0.82, 0.84, 0.75, 0.79, 0.88, 0.79, 0.79, 0.79, 0.82, 0.84, 0.87,
 0.84, 0.91, 0.81, 0.88, 0.96, 0.89, 0.83, 0.77, 0.73, 0.73, 0.71, 0.71];

const rmsdDailyDPAR = [
 _, 270, 370, 220, 230, 220, 230, 230, 220, 195, 150, 240,
 240, 355, 285, 300, 405, 275, 280, 305, 235, 215, 165, 155,
 235, 300, 380, 345, 320, 225, 240, 235, 230, 250, _, _,
 _, 145, 305, 295, 320, 265, 165, 170, 250, 235, 175, 145,
 _, _, _, _, 65, 215, 205, 270, 200, _, 195, 190,
 285, 225, 280, 285, 285, 350, 225, 165, 275, 240, _, _,
 205, 260, 275, 320, 220, 320, 285, 265, 290, 270, 290, 220,
 240, 255, 285, 290, 320, 230, 220, 230, 235, 210, 225, 145,
 160, 285, 220, 255, 365, 270, 190, 190, 280, 295, 245, 205];
const rmsdMonthlyDPAR = [
 _, 60, 70, 40, 50, 35, 40, 30, 35, 30, 25, 20,
 45, 90, 90, 45, 150, 55, 40, 40, 40, 42, 38, 35,
 25, 40, 40, 50, 45, 55, 40, 35, 40, 42, _, _,
 _, 65, 55, 45, 60, 35, 55, 50, 40, 30, 25, 80,
 _, _, _, _, 40, 40, 42, 38, 45, _, 30, 28,
 55, 45, 65, 75, 60, 40, 45, 40, 35, 45, _, _,
 35, 55, 45, 70, 55, 50, 65, 55, 50, 60, 110, 45,
 35, 40, 42, 45, 38, 42, 50, 45, 40, 35, 42, 40,
 35, 38, 35, 42, 55, 40, 35, 65, 50, 40, 35, 30];
const slopeDailyDPAR = [
 _, _, 0.66, 0.64, 0.87, 0.87, 0.89, 0.83, 0.75, 0.69, 0.58, 0.67,
 0.6, 0.58, 0.77, 0.78, 0.67, 0.87, 0.85, 0.83, 0.75, 0.58, 0.66, 0.63,
 0.65, 0.63, 0.66, 0.66, 0.7, 0.77, 0.83, 0.88, 0.85, 0.85, _, _,
 _, 0.79, 0.63, 0.79, 0.74, 0.84, 0.88, 0.97, 0.63, 0.73, 0.67, 0.73,
 _, _, _, _, 1.0, 0.92, 0.92, 0.77, 0.8, _, 0.49, 0.38,
 0.66, 0.7, 0.74, 0.72, 0.8, 0.87, 0.95, 0.8, 0.78, 0.7, _, _,
 0.6, 0.73, 0.74, 0.8, 0.88, 0.84, 0.77, 0.71, 0.6, 0.57, 0.44, 0.49,
 0.63, 0.7, 0.77, 0.85, 0.8, 0.88, 0.79, 0.73, 0.7, 0.61, 0.7, 0.58,
 0.58, 0.85, 0.77, 0.66, 0.85, 0.97, 0.9, 0.7, 0.57, 0.55, 0.52, 0.5];
const slopeMonthlyDPAR = [
 _, _, 0.86, 0.99, 1.02, 1.03, 1.01, 1.02, 0.94, 0.93, 0.97, 1.08,
 1.09, 1.05, 1.0, 0.98, 1.03, 1.05, 1.06, 1.08, 1.08, 0.97, 0.93, 0.95,
 1.14, 1.09, 1.05, 1.03, 1.0, 0.98, 0.97, 1.0, 1.06, 1.06, _, _,
 _, 0.89, 0.93, 0.98, 1.01, 1.02, 1.07, 1.11, 0.97, 0.95, 0.88, 0.95,
 _, _, _, _, 1.0, 1.05, 1.03, 0.99, 1.06, _, 1.08, 0.74,
 0.86, 0.9, 1.0, 1.02, 0.85, 1.0, 1.09, 1.09, 0.92, 0.98, _, _,
 0.94, 1.07, 0.91, 0.95, 1.0, 1.03, 1.08, 1.09, 0.91, 0.89, 0.88, 0.74,
 0.99, 0.98, 0.95, 1.02, 1.03, 0.94, 0.91, 0.91, 0.94, 0.98, 1.01, 1.03,
 1.03, 1.07, 0.94, 0.99, 1.03, 1.07, 1.05, 0.91, 0.88, 0.84, 0.85, 0.83];

// ---------------- assembly ----------------
const rows = [
 [boussole412, oasim412, rmsdYear412, slopeYear412, rmsdDaily412, rmsdMonthly412, slopeDaily412, slopeMonthly412],
 [boussole442, oasim442, rmsdYear442, slopeYear442, rmsdDaily442, rmsdMonthly442, slopeDaily442, slopeMonthly442],
 [boussole490, oasim490, rmsdYear490, slopeYear490, rmsdDaily490, rmsdMonthly490, slopeDaily490, slopeMonthly490],
 [boussole510, oasim510, rmsdYear510, slopeYear510, rmsdDaily510, rmsdMonthly510, slopeDaily510, slopeMonthly510],
 [boussole555, oasim555, rmsdYear555, slopeYear555, rmsdDaily555, rmsdMonthly555, slopeDaily555, slopeMonthly555],
 [boussole560, oasim560, rmsdYear560, slopeYear560, rmsdDaily560, rmsdMonthly560, slopeDaily560, slopeMonthly560],
 [boussole665, oasim665, rmsdYear665, slopeYear665, rmsdDaily665, rmsdMonthly665, slopeDaily665, slopeMonthly665],
 [boussole670, oasim670, rmsdYear670, slopeYear670, rmsdDaily670, rmsdMonthly670, slopeDaily670, slopeMonthly670],
 [boussole681, oasim681, rmsdYear681, slopeYear681, rmsdDaily681, rmsdMonthly681, slopeDaily681, slopeMonthly681],
 [boussoleDPAR, oasimDPAR, rmsdYearDPAR, slopeYearDPAR, rmsdDailyDPAR, rmsdMonthlyDPAR, slopeDailyDPAR, slopeMonthlyDPAR]
];

const GREY = "#b3b3b3", GREEN = "#b3d9b3", CYAN = "#00bfbf", MAGENTA = "#ff00ff";
const FONT = "DejaVu Sans, sans-serif";
const STYLE = {fontFamily: FONT, fontSize: "14px", color: "#000", background: "transparent", overflow: "visible"};
const TF = 14.5; // annotation font size
const PH = 85.5;
const rowTop = i => 36.5 + 102.75 * i;
const figEl = document.getElementById("fig");
const monthT = d3.range(108).map(i => 2004 + (i + 0.5) / 12);
const pts = arr => arr.map((v, i) => ({t: monthT[i], v})).filter(d => d.v != null);
const annual = arr => arr.map((v, i) => ({year: years[i], v}));

function mount(svg, x0, y0, m) {
  svg.style.position = "absolute";
  svg.style.left = (x0 - m.left) + "px";
  svg.style.top = (y0 - m.top) + "px";
  figEl.appendChild(svg);
}
function xAxis(ticks, last) {
  return Plot.axisX({ticks, tickSize: 5, tickPadding: 4, label: null,
    tickFormat: last ? d => String(d) : () => "", tickRotate: last ? -90 : 0});
}
function yAxis(ticks, fmt, anchor) {
  return Plot.axisY({ticks, anchor, tickFormat: fmt, tickSize: 5, tickPadding: 6, label: null});
}
function bandLabel(i, xData, yTop, dy) {
  if (bandNames[i] === "DPAR")
    return [Plot.text(["DPAR"], {x: () => xData + 0.05, y: () => yTop, dy, fontWeight: "bold", fontSize: TF, textAnchor: "start"})];
  return [
    Plot.text(["λ"], {x: () => xData, y: () => yTop, dy, fontStyle: "italic", fontSize: TF, textAnchor: "start"}),
    Plot.text(["= " + bandNames[i]], {x: () => xData, y: () => yTop, dx: 13, dy, fontWeight: "bold", fontSize: TF, textAnchor: "start"})
  ];
}

rows.forEach((r, i) => {
  const [bou, oas, rY, sY, rD, rM, sD, sM] = r;
  const last = i === rows.length - 1;
  const dpar = bandNames[i] === "DPAR";
  const y0 = rowTop(i);
  const mb = last ? 60 : 8;

  // ---- RMSD: annual bars ----
  {
    const m = {top: 4, right: 0, bottom: mb, left: 55};
    const yMax = dpar ? 1000 : 1;
    const svg = Plot.plot({
      width: 155.5 + m.left + m.right, height: PH + m.top + m.bottom,
      marginTop: m.top, marginRight: m.right, marginBottom: m.bottom, marginLeft: m.left,
      style: STYLE,
      x: {domain: [2003.215, 2012.785]},
      y: {domain: [0, yMax]},
      marks: [
        Plot.rectY(annual(bou).filter(d => d.v != null), {x1: d => d.year - 0.35, x2: d => d.year, y: "v", fill: GREY}),
        Plot.rectY(annual(oas).filter(d => d.v != null), {x1: d => d.year, x2: d => d.year + 0.35, y: "v", fill: GREEN}),
        Plot.line(annual(rY), {x: "year", y: "v", stroke: "red", strokeWidth: 2.5}),
        Plot.frame({stroke: "black"}),
        yAxis(dpar ? [0, 500, 1000] : [0, 0.5, 1], dpar ? d3.format("d") : d3.format(".1f"), "left"),
        xAxis(years, last),
        ...bandLabel(i, 2005.3, yMax, 12)
      ]
    });
    mount(svg, 87.5, y0, m);
  }
  // ---- RMSD: monthly match-ups ----
  {
    const m = {top: 4, right: 45, bottom: mb, left: 0};
    const yMax = dpar ? 500 : 0.4;
    const svg = Plot.plot({
      width: 312 + m.left + m.right, height: PH + m.top + m.bottom,
      marginTop: m.top, marginRight: m.right, marginBottom: m.bottom, marginLeft: m.left,
      style: STYLE,
      x: {domain: [2003.83, 2013]},
      y: {domain: [0, yMax]},
      marks: [
        Plot.ruleX(years, {stroke: GREEN, strokeWidth: 3, strokeDasharray: "3,3.5"}),
        Plot.dot(pts(rD), {x: "t", y: "v", r: 2.8, fill: "red", clip: true}),
        Plot.dot(pts(rM), {x: "t", y: "v", r: 2.8, fill: CYAN, clip: true}),
        Plot.frame({stroke: "black"}),
        yAxis(dpar ? [0, 250, 500] : [0, 0.2, 0.4], dpar ? d3.format("d") : d3.format(".1f"), "right"),
        xAxis(yearsRight, last),
        Plot.text(["daily " + rmsdDailyTxt[i]], {x: () => 2003.83, y: () => yMax, dx: 14, dy: 12, fill: "red", fontWeight: "bold", fontSize: TF, textAnchor: "start"}),
        Plot.text(["monthly " + rmsdMonthlyTxt[i]], {x: () => 2013, y: () => yMax, dx: -12, dy: 12, fill: CYAN, fontWeight: "bold", fontSize: TF, textAnchor: "end"})
      ]
    });
    mount(svg, 243, y0, m);
  }
  // ---- Slope: annual line ----
  {
    const m = {top: 4, right: 0, bottom: mb, left: 50};
    const dom = bandNames[i] === "670" ? [2004, 2012.29] : [2003.6, 2012.4];
    const svg = Plot.plot({
      width: 155.5 + m.left + m.right, height: PH + m.top + m.bottom,
      marginTop: m.top, marginRight: m.right, marginBottom: m.bottom, marginLeft: m.left,
      style: STYLE,
      x: {domain: dom},
      y: {domain: [0, 1.2]},
      marks: [
        Plot.line(annual(sY), {x: "year", y: "v", stroke: "black", strokeWidth: 2.5}),
        Plot.frame({stroke: "black"}),
        yAxis([0, 1], d3.format("d"), "left"),
        xAxis(years, last),
        ...bandLabel(i, 2005.3, 1.2, 8.5)
      ]
    });
    mount(svg, 648.5, y0, m);
  }
  // ---- Slope: monthly match-ups ----
  {
    const m = {top: 4, right: 40, bottom: mb, left: 0};
    const svg = Plot.plot({
      width: 311 + m.left + m.right, height: PH + m.top + m.bottom,
      marginTop: m.top, marginRight: m.right, marginBottom: m.bottom, marginLeft: m.left,
      style: STYLE,
      x: {domain: [2003.85, 2013]},
      y: {domain: [0, 1.2]},
      marks: [
        Plot.ruleX(years, {stroke: GREEN, strokeWidth: 3, strokeDasharray: "3,3.5"}),
        Plot.dot(pts(sD), {x: "t", y: "v", r: 2.8, fill: "black", clip: true}),
        Plot.dot(pts(sM), {x: "t", y: "v", r: 2.8, fill: MAGENTA, clip: true}),
        Plot.frame({stroke: "black"}),
        yAxis([0, 1], d3.format("d"), "right"),
        xAxis(yearsRight, last),
        Plot.text(["daily " + slopeDailyTxt[i]], {x: () => 2003.85, y: () => 0, dx: 13, dy: -10, fill: "black", fontWeight: "bold", fontSize: TF, textAnchor: "start"}),
        Plot.text(["monthly " + slopeMonthlyTxt[i]], {x: () => 2013, y: () => 0, dx: -12, dy: -10, fill: MAGENTA, fontWeight: "bold", fontSize: TF, textAnchor: "end"})
      ]
    });
    mount(svg, 804, y0, m);
  }
});

// ---- overlay: titles, unit labels ----
const ov = d3.select(figEl).append("svg")
  .attr("width", 1137).attr("height", 1149)
  .style("position", "absolute").style("left", "0px").style("top", "0px")
  .style("pointer-events", "none").style("font-family", FONT);
ov.append("text").attr("x", 276).attr("y", 18).attr("text-anchor", "middle").attr("dominant-baseline", "central")
  .attr("font-size", 21).attr("fill", "red").text("RMSD");
ov.append("text").attr("x", 834).attr("y", 18).attr("text-anchor", "middle").attr("dominant-baseline", "central")
  .attr("font-size", 21).attr("fill", "black").text("Slope");
for (let i = 0; i < 9; i++) {
  const cy = rowTop(i) + PH / 2;
  ov.append("text").attr("transform", `translate(35,${cy}) rotate(-90)`)
    .attr("text-anchor", "middle").attr("dominant-baseline", "central")
    .attr("font-size", 12.5).attr("font-style", "italic").attr("fill", "#222").text("w.m⁻².nm⁻¹");
}
ov.append("text").attr("transform", `translate(15,1004) rotate(-90)`)
  .attr("text-anchor", "middle").attr("dominant-baseline", "central")
  .attr("font-size", 16).attr("font-style", "italic").attr("fill", "#222").text("μmolquanta.m⁻².s⁻¹");

// ---- legend ----
const lg = d3.select(figEl).append("div")
  .style("position", "absolute").style("left", "62px").style("top", "1122px")
  .style("width", "249px").style("height", "34px").style("border", "1px solid #cccccc")
  .style("border-radius", "4px").style("background", "#fff").style("font-family", FONT).style("font-size", "14px");
[[GREY, 7, 47], [GREEN, 156, 196]].forEach(([c, px, tx], k) => {
  lg.append("div").style("position", "absolute").style("left", px + "px").style("top", "8px")
    .style("width", "29px").style("height", "11px").style("background", c);
  lg.append("div").style("position", "absolute").style("left", tx + "px").style("top", "5px")
    .style("line-height", "16px").style("color", "#111").text(legendNames[k]);
});
</script></body></html>
